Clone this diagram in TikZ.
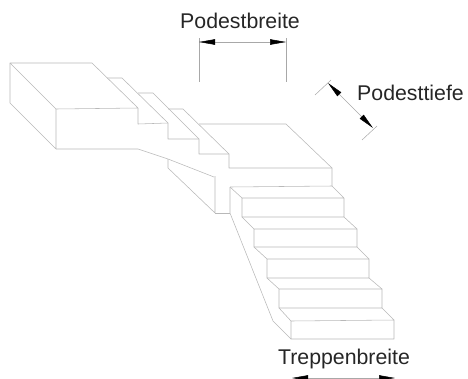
\documentclass[tikz,border=0pt]{standalone}
\usepackage{fontspec}
\setmainfont{Liberation Sans}
\usetikzlibrary{arrows.meta}
\definecolor{edgegray}{gray}{0.72}
\definecolor{dimgray}{gray}{0.66}
\tikzset{
  edge/.style={draw=edgegray,line width=0.55pt,line join=round},
  extline/.style={draw=dimgray,line width=0.5pt},
  dimline/.style={draw=dimgray,line width=0.5pt,{Triangle[black,length=16pt,width=5.5pt]}-{Triangle[black,length=16pt,width=5.5pt]}},
  lbl/.style={font=\fontsize{21.3}{24}\selectfont,text=black!85,inner sep=0pt}
}
\begin{document}
\begin{tikzpicture}[x=1pt,y=-1pt]
\useasboundingbox (0,0) rectangle (468,378);
\clip (0,0) rectangle (468,378);
% upper block
\draw[edge] (10,63) -- (92,63) -- (138,108) -- (56,109) -- cycle;
\draw[edge] (10,63) -- (10,103) -- (56,149) -- (56,109);
\draw[edge] (56,149) -- (138,149) -- (168,159) -- (214,177);
% upper steps
\draw[edge] (138,108) -- (138,124) -- (168,123);
\draw[edge] (107,78) -- (122,78) -- (168,123) -- (168,139) -- (199,139);
\draw[edge] (138,93) -- (153,93) -- (199,139) -- (199,154) -- (229,154);
\draw[edge] (168,109) -- (183,109) -- (229,154) -- (229,168) -- (332,168);
% landing
\draw[edge] (199,124) -- (286,124) -- (332,168) -- (332,186);
% landing underside
\draw[edge] (168,159) -- (168,168) -- (215,213) -- (215,176);
\draw[edge] (215,213) -- (230,213);
\draw[edge] (230,187) -- (332,186);
\draw[edge] (230,187) -- (230,213) -- (273,321) -- (291,339);
\draw[edge] (230,187) -- (242,198);
% lower stairs
\draw[edge] (332,186) -- (344,198) -- (242,198) -- (242,217) -- (344,217) -- (344,198);
\draw[edge] (242,217) -- (254,229) -- (357,229) -- (357,247) -- (254,247) -- (254,229);
\draw[edge] (344,217) -- (357,229);
\draw[edge] (254,247) -- (267,259) -- (369,259) -- (369,278) -- (267,278) -- (267,259);
\draw[edge] (357,247) -- (369,259);
\draw[edge] (267,278) -- (279,289) -- (382,289) -- (382,308) -- (279,308) -- (279,289);
\draw[edge] (369,278) -- (382,289);
\draw[edge] (279,308) -- (291,321) -- (394,320) -- (394,339) -- (291,339) -- (291,321);
\draw[edge] (382,308) -- (394,320);
% dimensions
\coordinate (pbl) at (199,42); \coordinate (pbr) at (286,42);
\draw[extline] (199,38) -- (199,82);
\draw[extline] (286,38) -- (286,82);
\draw[dimline] (pbl) -- (pbr);
\coordinate (pta) at (328,83); \coordinate (ptb) at (373,128);
\draw[extline] (315,95) -- (331,80);
\draw[extline] (362,140) -- (377,126);
\draw[dimline] (pta) -- (ptb);
\coordinate (tbl) at (292,378); \coordinate (tbr) at (395,378);
\draw[dimline] (tbl) -- (tbr);
% labels
\node[lbl,anchor=base] (podestbreite) at (240,28) {Podestbreite};
\node[lbl,anchor=base west] (podesttiefe) at (357,100) {Podesttiefe};
\node[lbl,anchor=base] (treppenbreite) at (344,364) {Treppenbreite};
\end{tikzpicture}
\end{document}
